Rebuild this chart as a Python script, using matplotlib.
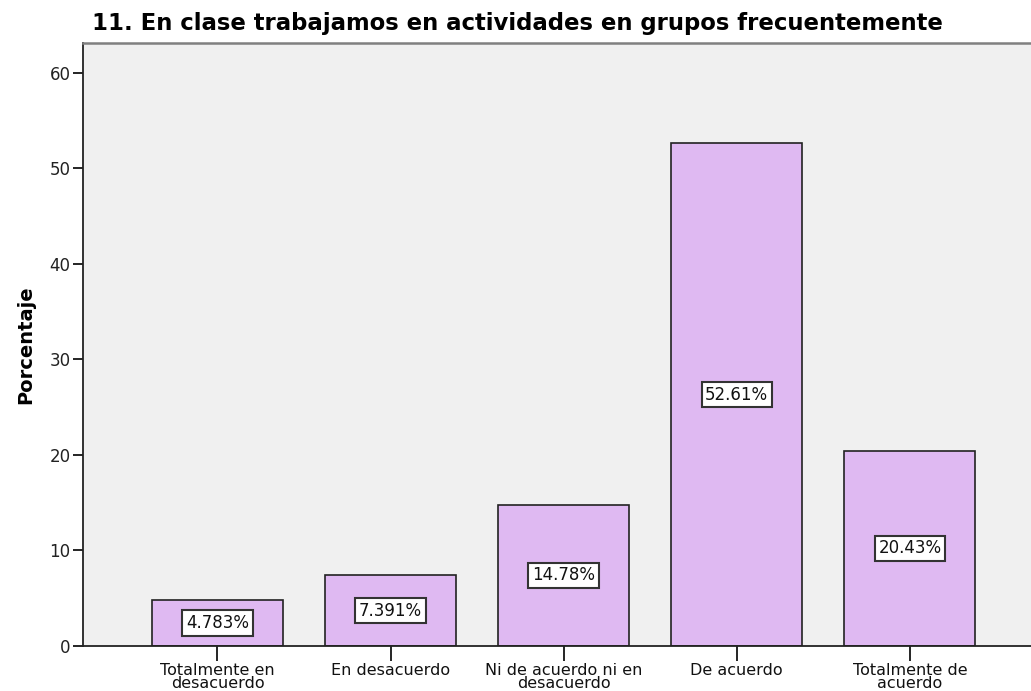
import matplotlib
matplotlib.use("Agg")
import matplotlib.pyplot as plt

categories = ["Totalmente en\ndesacuerdo", "En desacuerdo", "Ni de acuerdo ni en\ndesacuerdo",
              "De acuerdo", "Totalmente de\nacuerdo"]
values = [4.783, 7.391, 14.78, 52.61, 20.43]
labels = ["4.783%", "7.391%", "14.78%", "52.61%", "20.43%"]
yticks = [0, 10, 20, 30, 40, 50, 60]

plt.rcParams['font.family'] = ['DejaVu Sans']

fig = plt.figure(figsize=(10.31, 6.91), dpi=100)
ax = fig.add_axes([83/1031, 45/691, (1031-83)/1031, (646-43)/691])
ax.set_facecolor('#F0F0F0')

x = list(range(len(values)))
ax.bar(x, values, width=0.757, color='#DFB9F2', edgecolor='#222222', linewidth=1.2, zorder=2)
for xi, v, lab in zip(x, values, labels):
    ax.text(xi, v/2, lab, ha='center', va='center', fontsize=12, color='#111111', zorder=3,
            bbox=dict(boxstyle='square,pad=0.22', facecolor='white', edgecolor='#333333', linewidth=1.5))

ax.set_xlim(-0.777, 4.70)
ax.set_ylim(0, 63.1)
ax.set_yticks(yticks)
ax.set_yticklabels([str(t) for t in yticks], fontsize=12, color='#222222')
ax.set_xticks(x)
ax.set_xticklabels(categories, fontsize=11.5, linespacing=0.82, color='#111111')
ax.tick_params(axis='y', direction='out', length=7, width=1.2, pad=2)
ax.tick_params(axis='x', direction='out', length=11, width=1.2, pad=1)

for s in ['left', 'bottom']:
    ax.spines[s].set_color('#222222')
    ax.spines[s].set_linewidth(1.3)
ax.spines['top'].set_color('#808080')
ax.spines['top'].set_linewidth(1.8)
ax.spines['right'].set_visible(False)

ax.set_ylabel('Porcentaje', fontsize=14, fontweight='bold', labelpad=10)
fig.text(92/1031, 1 - 30/691, '11. En clase trabajamos en actividades en grupos frecuentemente',
         fontsize=16.4, fontweight='bold', ha='left', va='baseline')

fig.savefig('out.png', dpi=100)
